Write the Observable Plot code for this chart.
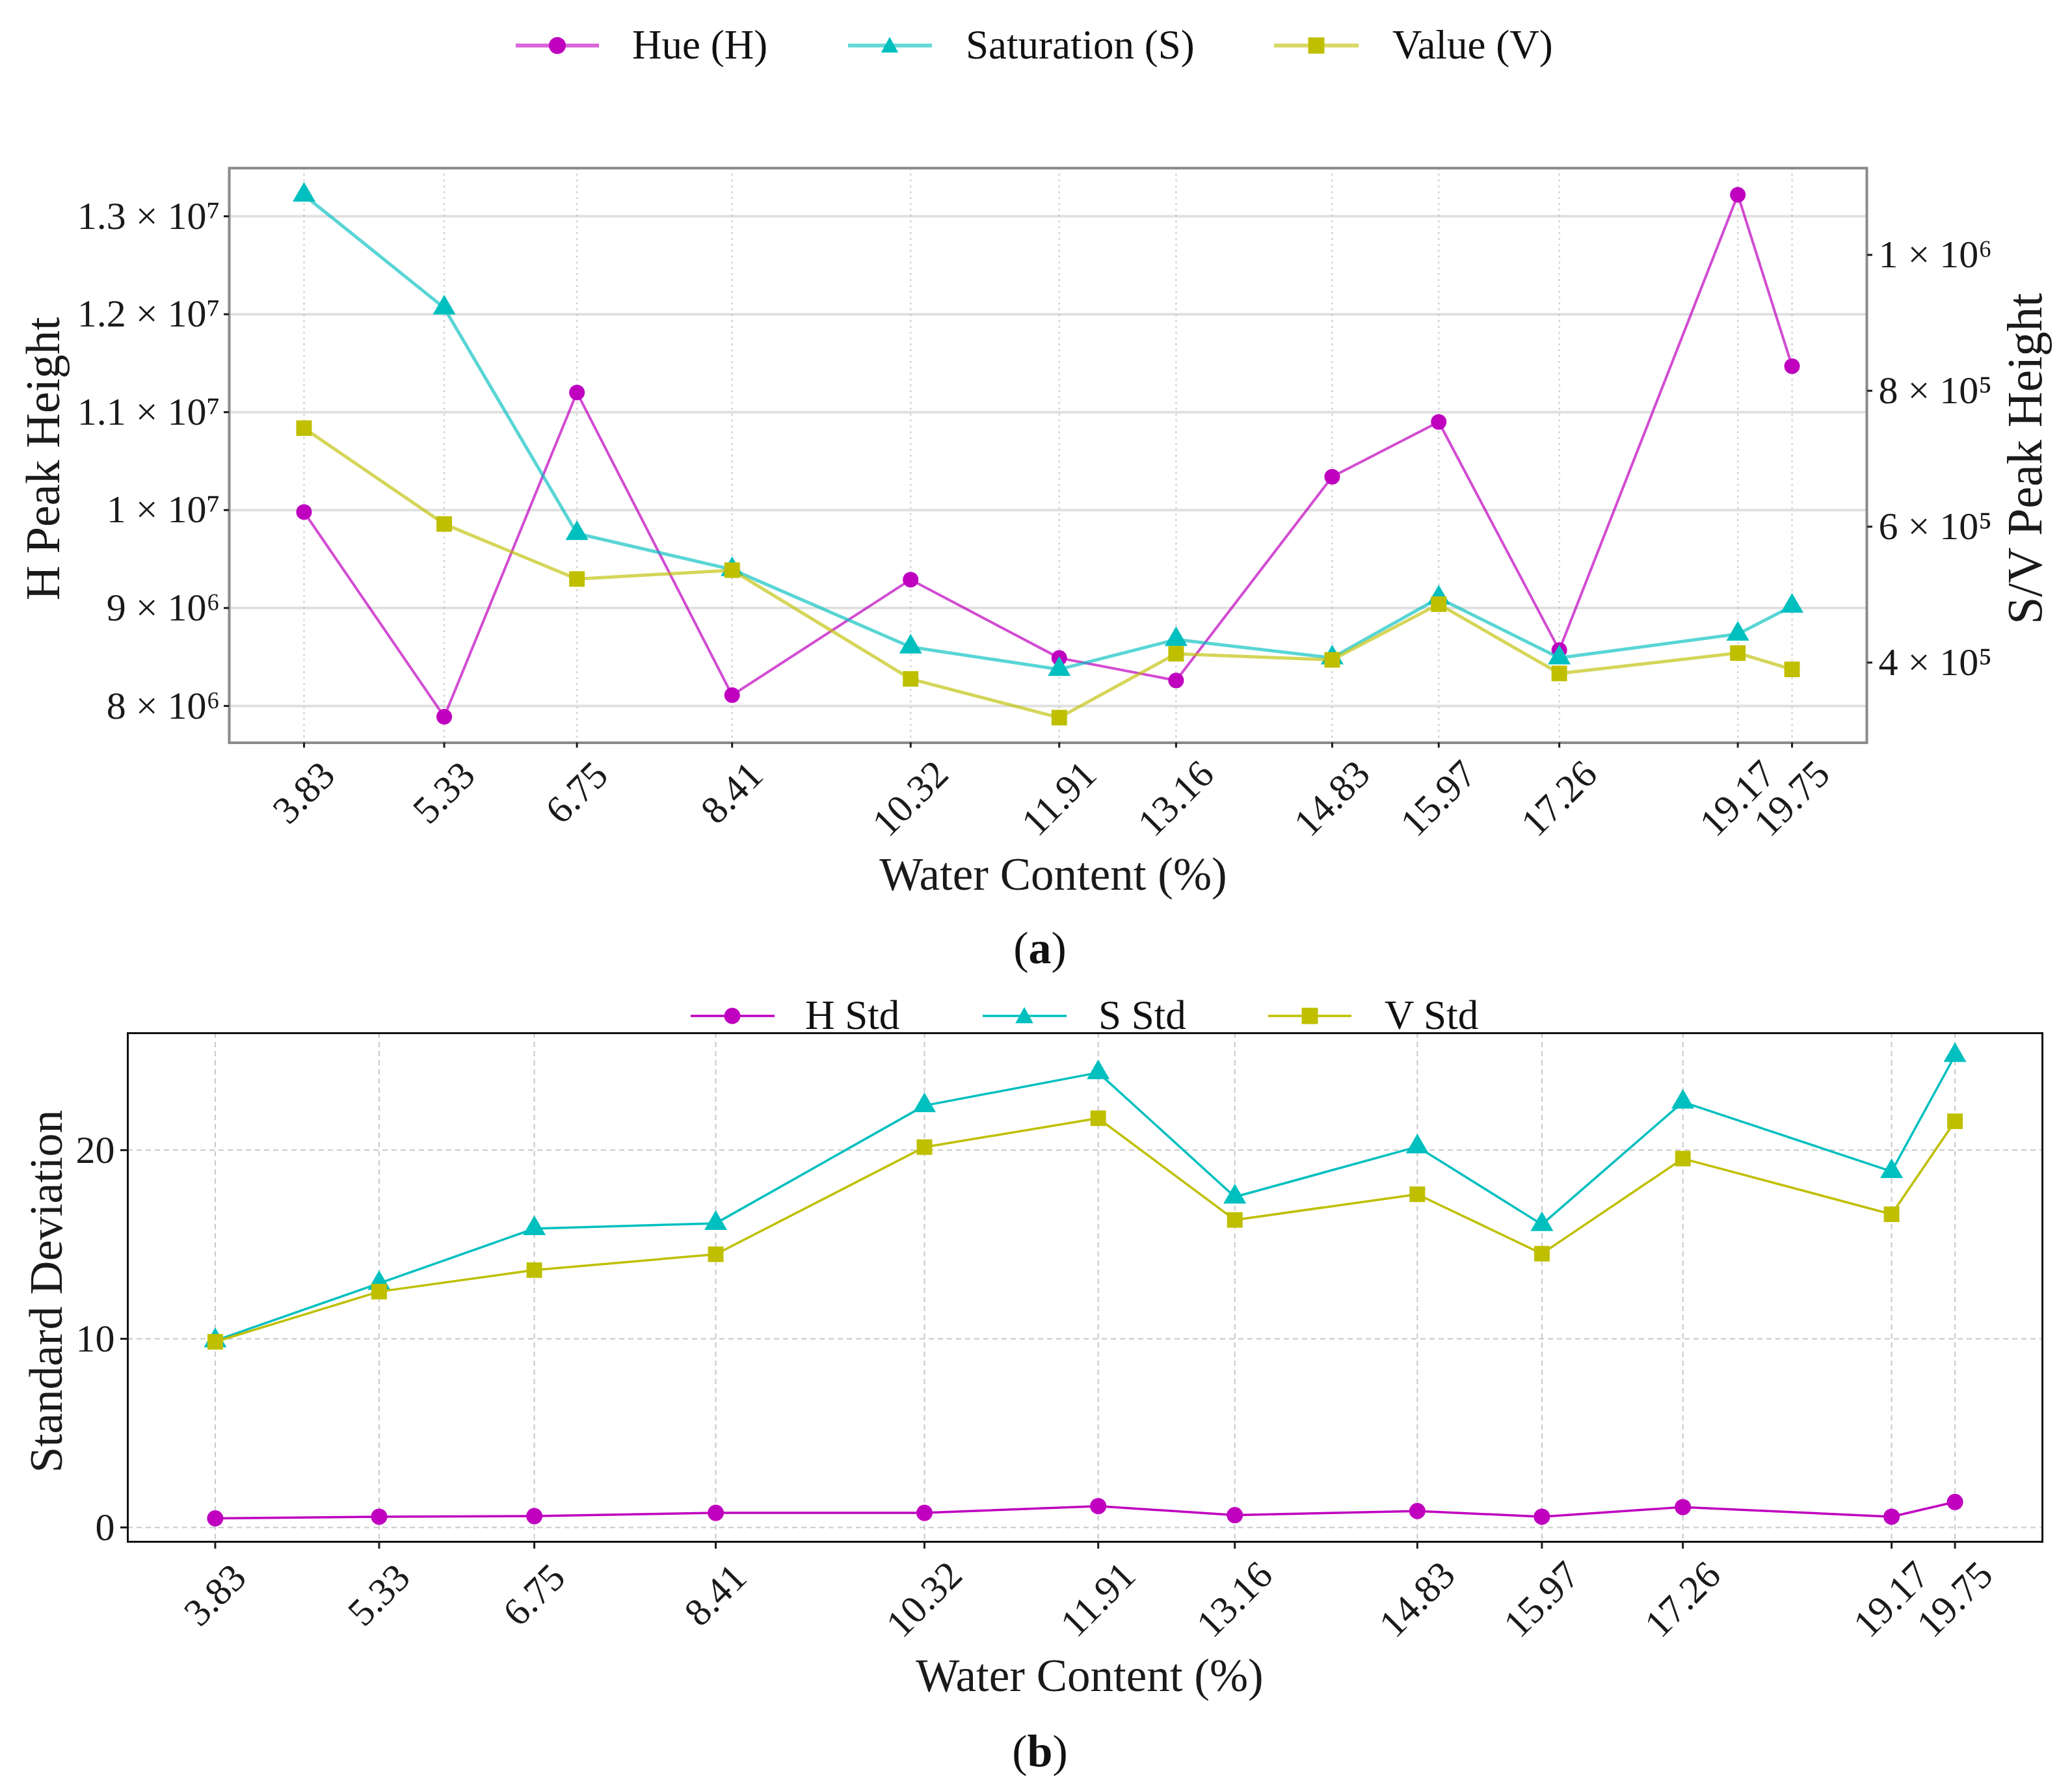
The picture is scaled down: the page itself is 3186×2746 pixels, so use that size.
<!DOCTYPE html>
<html><head><meta charset="utf-8">
<script src="https://cdn.jsdelivr.net/npm/d3@7"></script>
<script src="https://cdn.jsdelivr.net/npm/@observablehq/plot@0.6"></script>
<style>
body{margin:0;background:#fff;}
#root{position:relative;width:3186px;height:2746px;background:#fff;font-family:"Liberation Serif",serif;overflow:hidden;}
.lgtext{position:absolute;white-space:nowrap;color:#111;font-family:"Liberation Serif",serif;}
</style></head><body><div id="root"></div>
<script>
// ---------- data ----------
const water = [3.83, 5.33, 6.75, 8.41, 10.32, 11.91, 13.16, 14.83, 15.97, 17.26, 19.17, 19.75];
const waterLabels = ["3.83", "5.33", "6.75", "8.41", "10.32", "11.91", "13.16", "14.83", "15.97", "17.26", "19.17", "19.75"];
const hPeak = [9.98e6, 7.89e6, 1.120e7, 8.11e6, 9.29e6, 8.49e6, 8.26e6, 1.034e7, 1.090e7, 8.57e6, 1.322e7, 1.147e7];
const sPeak = [1.088e6, 9.22e5, 5.90e5, 5.37e5, 4.23e5, 3.90e5, 4.34e5, 4.07e5, 4.95e5, 4.07e5, 4.42e5, 4.83e5];
const vPeak = [7.45e5, 6.04e5, 5.23e5, 5.36e5, 3.76e5, 3.19e5, 4.13e5, 4.04e5, 4.86e5, 3.84e5, 4.14e5, 3.90e5];
const hStd = [0.48, 0.57, 0.60, 0.77, 0.77, 1.13, 0.65, 0.87, 0.57, 1.08, 0.57, 1.35];
const sStd = [9.90, 12.94, 15.84, 16.12, 22.36, 24.11, 17.52, 20.18, 16.06, 22.55, 18.87, 25.02];
const vStd = [9.84, 12.50, 13.64, 14.48, 20.16, 21.69, 16.30, 17.66, 14.51, 19.55, 16.60, 21.53];
const leftTicks = [8e6, 9e6, 1e7, 1.1e7, 1.2e7, 1.3e7];
const leftTickLabels = ["8 × 10⁶", "9 × 10⁶", "1 × 10⁷", "1.1 × 10⁷", "1.2 × 10⁷", "1.3 × 10⁷"];
const rightTicks = [4e5, 6e5, 8e5, 1e6];
const rightTickLabels = ["4 × 10⁵", "6 × 10⁵", "8 × 10⁵", "1 × 10⁶"];
const stdTicks = [0, 10, 20];
const legendA = ["Hue (H)", "Saturation (S)", "Value (V)"];
const legendB = ["H Std", "S Std", "V Std"];

// ---------- styles ----------
const M = "#bf00bf", C = "#00bfbf", Y = "#bfbf00";
const W = 3186;
const FONT = "Liberation Serif";
const root = document.getElementById("root");

const rows = water.map((w, i) => ({
  w, label: waterLabels[i],
  h: hPeak[i], s: sPeak[i], v: vPeak[i],
  hs: hStd[i], ss: sStd[i], vs: vStd[i]
}));
const short = rows.filter(d => d.label.length <= 4);
const long = rows.filter(d => d.label.length > 4);

function place(el, top, left) {
  el.style.position = "absolute";
  el.style.top = top + "px";
  el.style.left = (left || 0) + "px";
  root.appendChild(el);
}

// ---------- legends ----------
const NS = "http://www.w3.org/2000/svg";
function marker(g, type, cx, cy, size, color) {
  let el;
  if (type === "circle") {
    el = document.createElementNS(NS, "circle");
    el.setAttribute("cx", cx); el.setAttribute("cy", cy); el.setAttribute("r", size / 2);
  } else if (type === "square") {
    el = document.createElementNS(NS, "rect");
    el.setAttribute("x", cx - size / 2); el.setAttribute("y", cy - size / 2);
    el.setAttribute("width", size); el.setAttribute("height", size);
  } else {
    el = document.createElementNS(NS, "path");
    const h = size;
    el.setAttribute("d", `M${cx},${cy - h * 0.55}L${cx + h * 0.55},${cy + h * 0.45}L${cx - h * 0.55},${cy + h * 0.45}Z`);
  }
  el.setAttribute("fill", color);
  g.appendChild(el);
}
function legend(items, cy, fontSize, lineW, lineOp) {
  for (const it of items) {
    const svg = document.createElementNS(NS, "svg");
    const w = it.x1 - it.x0;
    svg.setAttribute("width", w); svg.setAttribute("height", 60);
    svg.style.position = "absolute";
    svg.style.left = it.x0 + "px"; svg.style.top = (cy - 30) + "px";
    svg.style.overflow = "visible";
    const ln = document.createElementNS(NS, "line");
    ln.setAttribute("x1", 0); ln.setAttribute("x2", w); ln.setAttribute("y1", 30); ln.setAttribute("y2", 30);
    ln.setAttribute("stroke", it.color); ln.setAttribute("stroke-width", lineW); ln.setAttribute("stroke-opacity", lineOp);
    svg.appendChild(ln);
    marker(svg, it.symbol, it.mx - it.x0, 30, it.size, it.color);
    svg.style.zIndex = 5;
    root.appendChild(svg);
    const t = document.createElement("div");
    t.className = "lgtext";
    t.textContent = it.text;
    t.style.fontSize = fontSize + "px";
    t.style.lineHeight = (fontSize * 1.2) + "px";
    t.style.left = it.tx + "px";
    t.style.top = (cy - fontSize * 0.6) + "px";
    t.style.zIndex = 5;
    root.appendChild(t);
  }
}
legend([
  {x0: 793, x1: 921, mx: 857, tx: 972, color: M, symbol: "circle", size: 26, text: legendA[0]},
  {x0: 1304, x1: 1433, mx: 1368, tx: 1485, color: C, symbol: "triangle", size: 24, text: legendA[1]},
  {x0: 1959, x1: 2089, mx: 2024, tx: 2141, color: Y, symbol: "square", size: 25, text: legendA[2]}
], 70, 63, 6, 0.6);

legend([
  {x0: 1062, x1: 1191, mx: 1126, tx: 1238, color: M, symbol: "circle", size: 25, text: legendB[0]},
  {x0: 1511, x1: 1640, mx: 1575, tx: 1689, color: C, symbol: "triangle", size: 25, text: legendB[1]},
  {x0: 1950, x1: 2078, mx: 2014, tx: 2129, color: Y, symbol: "square", size: 25, text: legendB[2]}
], 1562, 63, 3.5, 1);

// ---------- panel (a) ----------
const aTop = 200, aH = 1200;
const aMargins = {marginLeft: 352, marginRight: 316, marginTop: 58, marginBottom: 258.5};
const xDomain = [3.03, 20.55];
const baseStyle = {fontFamily: FONT, fontSize: "60px", color: "#1a1a1a", background: "transparent", overflow: "visible"};
const T = {textAnchor: "middle", lineAnchor: "middle"};

const a1 = Plot.plot({
  width: W, height: aH, ...aMargins,
  style: baseStyle,
  x: {domain: xDomain},
  y: {domain: [7.624e6, 1.3492e7]},
  marks: [
    Plot.gridX(water, {stroke: "#aaa", strokeOpacity: 0.5, strokeWidth: 2.5, strokeDasharray: "3,6"}),
    Plot.gridY(leftTicks, {stroke: "#bbb", strokeOpacity: 0.45, strokeWidth: 4}),
    Plot.frame({stroke: "#8a8a8a", strokeWidth: 4}),
    Plot.axisY(leftTicks, {anchor: "left", tickSize: 8, tickPadding: 6, strokeWidth: 3, fontSize: 60,
      tickFormat: d => leftTickLabels[leftTicks.indexOf(d)], label: null}),
    Plot.axisX(water, {anchor: "bottom", tickSize: 8, strokeWidth: 3, tickFormat: () => "", label: null}),
    Plot.text(short, {x: "w", text: "label", frameAnchor: "bottom", dy: 77, rotate: -45, ...T, fontSize: 60}),
    Plot.text(long, {x: "w", text: "label", frameAnchor: "bottom", dy: 86, rotate: -45, ...T, fontSize: 60}),
    Plot.text(["Water Content (%)"], {frameAnchor: "bottom", dx: 8, dy: 203, ...T, fontSize: 71}),
    Plot.text(["H Peak Height"], {frameAnchor: "left", dx: -285, dy: 5, rotate: -90, ...T, fontSize: 74}),
    Plot.line(rows, {x: "w", y: "h", stroke: M, strokeWidth: 4, strokeOpacity: 0.7}),
    Plot.dot(rows, {x: "w", y: "h", r: 12, fill: M, symbol: "circle"})
  ]
});
place(a1, aTop, 0);

const a2 = Plot.plot({
  width: W, height: aH, ...aMargins,
  style: baseStyle,
  x: {domain: xDomain, axis: null},
  y: {domain: [2.82e5, 1.1277e6], axis: null},
  marks: [
    Plot.axisY(rightTicks, {anchor: "right", tickSize: 8, tickPadding: 10, strokeWidth: 3, fontSize: 60,
      tickFormat: d => rightTickLabels[rightTicks.indexOf(d)], label: null}),
    Plot.text(["S/V Peak Height"], {frameAnchor: "right", dx: 244, dy: 5, rotate: -90, ...T, fontSize: 76}),
    Plot.line(rows, {x: "w", y: "s", stroke: C, strokeWidth: 5, strokeOpacity: 0.65}),
    Plot.dot(rows, {x: "w", y: "s", r: 13, fill: C, symbol: "triangle"}),
    Plot.line(rows, {x: "w", y: "v", stroke: Y, strokeWidth: 5, strokeOpacity: 0.65}),
    Plot.dot(rows, {x: "w", y: "v", r: 13.5, fill: Y, symbol: "square"})
  ]
});
place(a2, aTop, 0);

// caption (a)
const capA = document.createElement("div");
capA.className = "lgtext";
capA.innerHTML = "(<b>a</b>)";
capA.style.fontSize = "70px";
capA.style.width = "300px"; capA.style.textAlign = "center";
capA.style.left = (1599 - 150) + "px"; capA.style.top = (1460 - 42) + "px";
root.appendChild(capA);

// ---------- panel (b) ----------
const bTop = 1560, bH = 1070;
const b = Plot.plot({
  width: W, height: bH,
  marginLeft: 196, marginRight: 46, marginTop: 28, marginBottom: 260,
  style: baseStyle,
  x: {domain: xDomain},
  y: {domain: [-0.76, 26.2]},
  marks: [
    Plot.gridX(water, {stroke: "#b0b0b0", strokeOpacity: 0.7, strokeWidth: 2, strokeDasharray: "8,6"}),
    Plot.gridY(stdTicks, {stroke: "#b0b0b0", strokeOpacity: 0.7, strokeWidth: 2, strokeDasharray: "8,6"}),
    Plot.frame({stroke: "#111", strokeWidth: 3}),
    Plot.axisY(stdTicks, {anchor: "left", tickSize: 11, tickPadding: 9, strokeWidth: 3, fontSize: 60, label: null}),
    Plot.axisX(water, {anchor: "bottom", tickSize: 11, strokeWidth: 3, tickFormat: () => "", label: null}),
    Plot.text(short, {x: "w", text: "label", frameAnchor: "bottom", dy: 82, rotate: -45, ...T, fontSize: 60}),
    Plot.text(long, {x: "w", text: "label", frameAnchor: "bottom", dy: 89, rotate: -45, ...T, fontSize: 60}),
    Plot.text(["Water Content (%)"], {frameAnchor: "bottom", dx: 7, dy: 207, ...T, fontSize: 71}),
    Plot.text(["Standard Deviation"], {frameAnchor: "left", dx: -125, dy: 6, rotate: -90, ...T, fontSize: 72}),
    Plot.line(rows, {x: "w", y: "hs", stroke: M, strokeWidth: 3.5}),
    Plot.dot(rows, {x: "w", y: "hs", r: 12.5, fill: M, symbol: "circle"}),
    Plot.line(rows, {x: "w", y: "ss", stroke: C, strokeWidth: 3.5}),
    Plot.dot(rows, {x: "w", y: "ss", r: 13, fill: C, symbol: "triangle"}),
    Plot.line(rows, {x: "w", y: "vs", stroke: Y, strokeWidth: 3.5}),
    Plot.dot(rows, {x: "w", y: "vs", r: 13.5, fill: Y, symbol: "square"})
  ]
});
place(b, bTop, 0);

const capB = document.createElement("div");
capB.className = "lgtext";
capB.innerHTML = "(<b>b</b>)";
capB.style.fontSize = "70px";
capB.style.width = "300px"; capB.style.textAlign = "center";
capB.style.left = (1599 - 150) + "px"; capB.style.top = (2695 - 42) + "px";
root.appendChild(capB);
</script>
</body></html>
